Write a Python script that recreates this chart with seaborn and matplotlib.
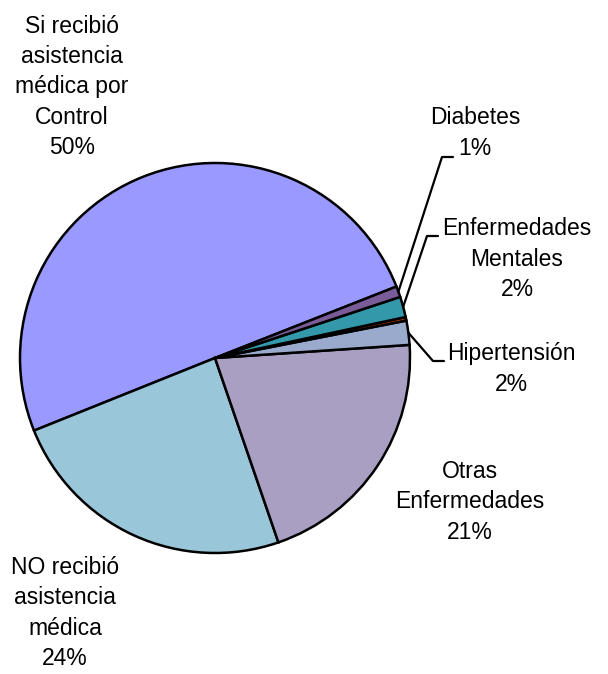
import numpy as np
import matplotlib
matplotlib.use("Agg")
import matplotlib.pyplot as plt
import seaborn as sns

sns.set_theme(style="white")
plt.rcParams['font.family'] = ['Liberation Sans Narrow', 'Liberation Sans', 'DejaVu Sans']

# data (counter-clockwise order, starting at the top-right)
labels = ["Si recibió\nasistencia\nmédica por\nControl", "NO recibió\nasistencia\nmédica",
          "Otras\nEnfermedades", "Hipertensión", "", "Enfermedades\nMentales", "Diabetes"]
values = [50.1, 24.2, 20.8, 2.0, 0.3, 1.7, 0.9]
colors = ["#9999FF", "#99C6D8", "#A99FC3", "#99AACC", "#993300", "#3399AA", "#7A5C99"]

# label block centres in pixels (x, y from top) and leader elbows
label_px = [(72, 87), (65, 613), (470, 502), (511, 369), None, (517, 259), (475, 133)]
elbow_px = [None, None, None, (433, 361), None, (427, 236), (442, 157)]

W, H = 608, 674
cx, cy, R = 215, 358, 195

fig = plt.figure(figsize=(W / 100, H / 100), dpi=100)
ax = fig.add_axes([(cx - R) / W, (H - cy - R) / H, 2 * R / W, 2 * R / H])

wedges, _ = ax.pie(values, colors=colors, startangle=21.5, counterclock=True,
                   radius=1, wedgeprops=dict(edgecolor="black", linewidth=1.8))
ax.set_xlim(-1, 1)
ax.set_ylim(-1, 1)
ax.axis("off")


def to_data(p):
    return (p[0] - cx) / R, (cy - p[1]) / R


for w, lab, v, lp, ep in zip(wedges, labels, values, label_px, elbow_px):
    if lp is None:
        continue
    tx, ty = to_data(lp)
    ax.text(tx, ty, f"{lab}\n{round(v)}%", ha="center", va="center", fontsize=16.5,
            linespacing=1.4, color="black", clip_on=False)
    if ep is not None:
        mid = np.deg2rad((w.theta1 + w.theta2) / 2)
        x0, y0 = np.cos(mid), np.sin(mid)
        ex, ey = to_data(ep)
        ax.plot([x0, ex, ex + 11 / R], [y0, ey, ey], color="black", lw=1.6, clip_on=False)

fig.savefig("out.png", dpi=100)
